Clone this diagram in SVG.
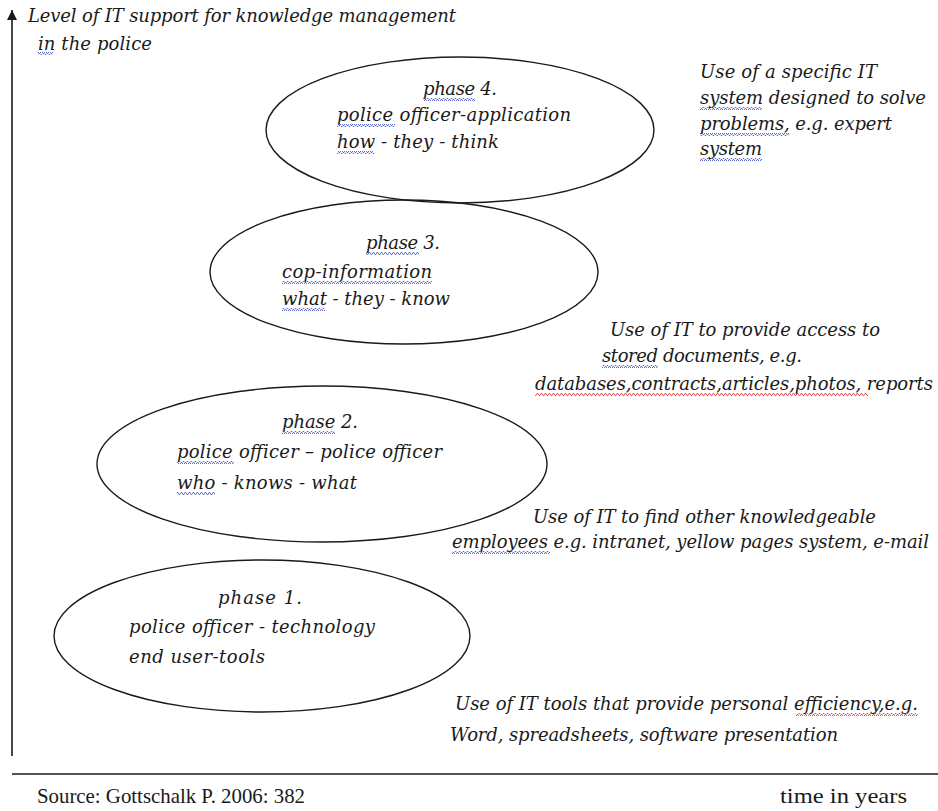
<svg xmlns="http://www.w3.org/2000/svg" width="938" height="811" viewBox="0 0 938 811">
<style>
  .t { font-family: "DejaVu Serif", "Liberation Serif", serif; font-style: italic; font-size: 18px; fill: #1a1a1a; }
  .src { font-family: "Liberation Serif", "Times New Roman", serif; font-size: 21px; fill: #1a1a1a; }
  .ell { fill: none; stroke: #1a1a1a; stroke-width: 1.4; }
  .axis { stroke: #1a1a1a; stroke-width: 1.6; fill: none; }
  .sqb { fill: url(#waveBlue); }
  .sqr { fill: url(#waveRed); }
</style>
<defs>
  <pattern id="waveBlue" width="4" height="3" patternUnits="userSpaceOnUse">
    <polyline points="0,2.5 1,0.5 2,0.5 3,2.5 4,2.5" fill="none" stroke="#4f5fd0" stroke-width="0.9"/>
  </pattern>
  <pattern id="waveRed" width="4" height="3" patternUnits="userSpaceOnUse">
    <polyline points="0,2.5 1,0.5 2,0.5 3,2.5 4,2.5" fill="none" stroke="#e0404a" stroke-width="0.9"/>
  </pattern>
  <marker id="ah" viewBox="0 0 10 10" refX="10" refY="5" markerWidth="11" markerHeight="10" orient="auto" markerUnits="userSpaceOnUse">
    <path d="M0,0 L10,5 L0,10 Z" fill="#1a1a1a"/>
  </marker>
</defs>
<rect width="938" height="811" fill="#ffffff"/>

<g id="axes">
  <line class="axis" x1="12" y1="756" x2="12" y2="10" marker-end="url(#ah)"/>
  <line class="axis" x1="12" y1="774" x2="938" y2="774"/>
</g>

<g id="y-axis-label">
  <text class="t" x="28" y="22" textLength="428">Level of IT support for knowledge management</text>
  <text class="t" x="38" y="50" textLength="114">in the police</text>
  <rect class="sqb" x="38" y="52" width="15" height="3"/>
</g>

<g id="phase4">
  <ellipse class="ell" cx="460" cy="130" rx="194" ry="73"/>
  <text class="t" x="423" y="95" textLength="74">phase 4.</text>
  <text class="t" x="337" y="121" textLength="234">police officer-application</text>
  <text class="t" x="337" y="148" textLength="162">how - they - think</text>
  <rect class="sqb" x="423" y="98" width="52" height="3"/>
  <rect class="sqb" x="337" y="124" width="58" height="3"/>
  <rect class="sqb" x="337" y="151" width="37" height="3"/>
</g>

<g id="desc4">
  <text class="t" x="700" y="78" textLength="177">Use of a specific IT</text>
  <text class="t" x="700" y="104" textLength="226">system designed to solve</text>
  <text class="t" x="700" y="130" textLength="192">problems, e.g. expert</text>
  <text class="t" x="700" y="155" textLength="62">system</text>
  <rect class="sqb" x="700" y="107" width="62" height="3"/>
  <rect class="sqb" x="700" y="133" width="89" height="3"/>
  <rect class="sqb" x="700" y="158" width="62" height="3"/>
</g>

<g id="phase3">
  <ellipse class="ell" cx="404" cy="272" rx="194" ry="72"/>
  <text class="t" x="366" y="249" textLength="74">phase 3.</text>
  <text class="t" x="282" y="278" textLength="150">cop-information</text>
  <text class="t" x="282" y="305" textLength="168">what - they - know</text>
  <rect class="sqb" x="366" y="252" width="53" height="3"/>
  <rect class="sqb" x="282" y="281" width="150" height="3"/>
  <rect class="sqb" x="282" y="308" width="43" height="3"/>
</g>

<g id="desc3">
  <text class="t" x="610" y="336" textLength="270">Use of IT to provide access to</text>
  <text class="t" x="602" y="362" textLength="200">stored documents, e.g.</text>
  <text class="t" x="535" y="390" textLength="398">databases,contracts,articles,photos, reports</text>
  <rect class="sqb" x="602" y="365" width="56" height="3"/>
  <rect class="sqr" x="535" y="393" width="333" height="3"/>
</g>

<g id="phase2">
  <ellipse class="ell" cx="322" cy="464" rx="225" ry="78"/>
  <text class="t" x="282" y="428" textLength="76">phase 2.</text>
  <text class="t" x="177" y="458" textLength="265">police officer – police officer</text>
  <text class="t" x="177" y="489" textLength="180">who - knows - what</text>
  <rect class="sqb" x="282" y="431" width="53" height="3"/>
  <rect class="sqb" x="177" y="461" width="57" height="3"/>
  <rect class="sqb" x="177" y="492" width="38" height="3"/>
</g>

<g id="desc2">
  <text class="t" x="533" y="523" textLength="343">Use of IT to find other knowledgeable</text>
  <text class="t" x="452" y="548" textLength="477">employees e.g. intranet, yellow pages system, e-mail</text>
  <rect class="sqb" x="452" y="551" width="98" height="3"/>
</g>

<g id="phase1">
  <ellipse class="ell" cx="262" cy="636" rx="208" ry="76"/>
  <text class="t" x="218" y="604" textLength="84">phase 1.</text>
  <text class="t" x="129" y="633" textLength="246">police officer - technology</text>
  <text class="t" x="129" y="663" textLength="136">end user-tools</text>
</g>

<g id="desc1">
  <text class="t" x="455" y="710" textLength="463">Use of IT tools that provide personal efficiency,e.g.</text>
  <text class="t" x="450" y="741" textLength="388">Word, spreadsheets, software presentation</text>
  <rect class="sqr" x="796" y="713" width="122" height="3"/>
</g>

<g id="footer">
  <text class="src" x="37" y="803" textLength="268" lengthAdjust="spacingAndGlyphs">Source: Gottschalk P. 2006: 382</text>
  <text class="src" x="780" y="803" textLength="127" lengthAdjust="spacingAndGlyphs">time in years</text>
</g>
</svg>
